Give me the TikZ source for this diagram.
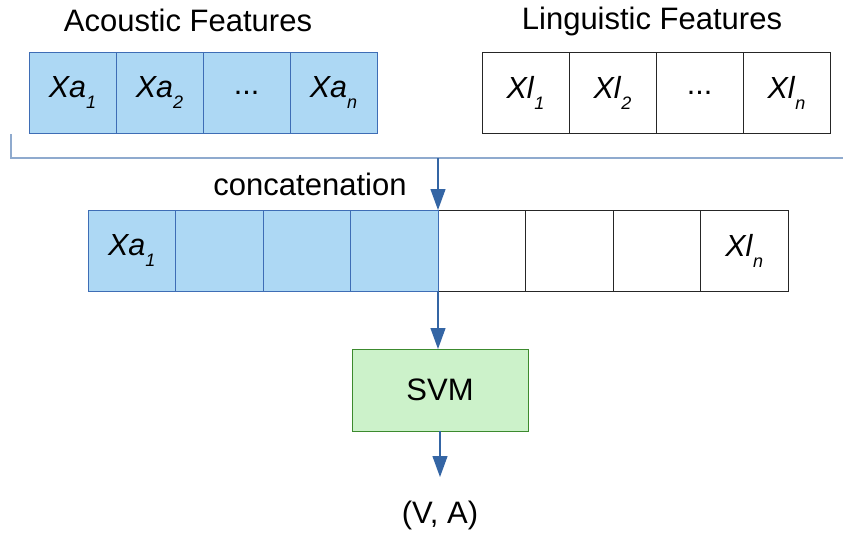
\documentclass[tikz,border=0pt]{standalone}
\usepackage{fontspec}
\setmainfont{Liberation Sans}
\usetikzlibrary{positioning,arrows.meta}

\definecolor{acfill}{HTML}{ADD8F4}
\definecolor{acline}{HTML}{3E6DB5}
\definecolor{svmfill}{HTML}{CCF2CA}
\definecolor{svmline}{HTML}{3C8A2E}
\definecolor{brline}{HTML}{8FAACE}
\definecolor{flowc}{HTML}{3465A4}

\newcommand{\feat}[2]{\textit{#1}\raisebox{-11pt}{\fontsize{18}{18}\selectfont\textit{#2}}}

\tikzset{
  cell/.style={draw, line width=1pt, minimum width=87pt, minimum height=81pt,
    inner sep=0pt, outer sep=0pt, font=\fontsize{30.5}{35}\selectfont},
  acc/.style={cell, fill=acfill, draw=acline},
  ling/.style={cell, fill=white, draw=black!85},
  flow/.style={draw=flowc, line width=1.2pt, -{Triangle[length=21pt,width=15pt]}},
  title/.style={font=\fontsize{31}{36}\selectfont},
  bracket/.style={draw=brline, line width=1.5pt}
}

\begin{document}
\begin{tikzpicture}[x=1pt,y=-1pt]
\useasboundingbox (0,0) rectangle (843,533);

%% ACOUSTIC FEATURES
\node[title] (actitle) at (188,20) {Acoustic Features};
\node[acc] (a1) at (72.5,92.5) {\feat{Xa}{1}};
\node[acc, right=0pt of a1] (a2) {\feat{Xa}{2}};
\node[acc, right=0pt of a2] (a3) {...};
\node[acc, right=0pt of a3] (a4) {\feat{Xa}{n}};

%% LINGUISTIC FEATURES
\node[title] (lititle) at (652,21) {Linguistic Features};
\node[ling] (l1) at (525.5,92.5) {\feat{Xl}{1}};
\node[ling, right=0pt of l1] (l2) {\feat{Xl}{2}};
\node[ling, right=0pt of l2] (l3) {...};
\node[ling, right=0pt of l3] (l4) {\feat{Xl}{n}};

% concatenation bracket
\coordinate (brl) at (11,134);
\coordinate (brr) at (843,158);
\draw[bracket] (brl) |- (brr);
\node[title] (cattext) at (310,184) {concatenation};

%% CONCATENATED VECTOR
\node[ling, minimum width=87.5pt] (c5) at (481.75,250.5) {};
\node[ling, minimum width=87.5pt, right=0pt of c5] (c6) {};
\node[ling, minimum width=87.5pt, right=0pt of c6] (c7) {};
\node[ling, minimum width=87.5pt, right=0pt of c7] (c8) {\feat{Xl}{n}};
\node[acc, minimum width=87.5pt, left=0pt of c5] (c4) {};
\node[acc, minimum width=87.5pt, left=0pt of c4] (c3) {};
\node[acc, minimum width=87.5pt, left=0pt of c3] (c2) {};
\node[acc, minimum width=87.5pt, left=0pt of c2] (c1) {\feat{Xa}{1}};

\coordinate (join) at (c4.north east |- brr);
\draw[flow] (join) -- (c4.north east);

%% CLASSIFIER
\node[cell, fill=svmfill, draw=svmline, minimum width=176pt, minimum height=82pt,
  font=\fontsize{31}{36}\selectfont] (svm) at (440,390) {SVM};
\node[title] (va) at (440,515) {(V, A)};

\draw[flow] (c4.south east) -- (c4.south east |- svm.north);
\draw[flow, shorten >=20pt] (svm) -- (va);

\end{tikzpicture}
\end{document}
